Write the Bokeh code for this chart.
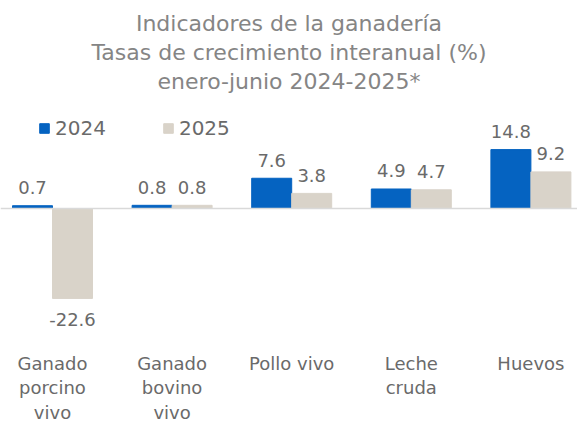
from bokeh.plotting import figure
from bokeh.models import ColumnDataSource, Range1d, Span, Label, Legend, LegendItem
from bokeh.core.properties import value
from bokeh.embed import file_html
from bokeh.resources import INLINE

# ---- data ----
categories = ["Ganado\nporcino\nvivo", "Ganado\nbovino\nvivo", "Pollo vivo", "Leche\ncruda", "Huevos"]
series_names = ["2024", "2025"]
values_2024 = [0.7, 0.8, 7.6, 4.9, 14.8]
values_2025 = [-22.6, 0.8, 3.8, 4.7, 9.2]
title_lines = ["Indicadores de la ganadería",
               "Tasas de crecimiento interanual (%)",
               "enero-junio 2024-2025*"]

BLUE = "#0563C1"
BEIGE = "#D9D3C9"
TXT = "#6A6A6A"
FONT = "DejaVu Sans"

W, H = 577, 424
px_per_cat = 119.6
px_per_unit = 3.98
x0 = -52 / px_per_cat
y_top = 208 / px_per_unit

p = figure(width=W, height=H, output_backend="svg", toolbar_location=None,
           x_range=Range1d(x0, x0 + W / px_per_cat),
           y_range=Range1d(y_top - H / px_per_unit, y_top),
           x_axis_type=None, y_axis_type=None, min_border=0)
p.outline_line_color = None
p.grid.visible = False
p.background_fill_color = "white"
p.border_fill_color = "white"

idx = list(range(len(categories)))
bw = 40 / px_per_cat

p.add_layout(Span(location=0, dimension="width", line_color="#D9D9D9", line_width=1.5))

renderers = []
for k, (vals, col) in enumerate([(values_2024, BLUE), (values_2025, BEIGE)]):
    xs = [i + (k - 0.5) * bw for i in idx]
    src = ColumnDataSource(dict(
        x=xs, top=vals,
        lab=[f"{v:.1f}" for v in vals],
        base=["alphabetic" if v >= 0 else "top" for v in vals],
        off=[-18 if v >= 0 else 15 for v in vals],
    ))
    r = p.vbar(x="x", top="top", bottom=0, width=bw, source=src,
               fill_color=col, line_color=col)
    renderers.append(r)
    p.text(x="x", y="top", text="lab", source=src, text_align="center",
           text_baseline="base", y_offset="off",
           text_font=value(FONT), text_font_size="18px", text_color=TXT)

# category labels
cat_src = ColumnDataSource(dict(x=idx, y=[(208 - 352) / px_per_unit] * len(idx), t=categories))
p.text(x="x", y="y", text="t", source=cat_src, text_align="center", text_baseline="top",
       text_font=value(FONT), text_font_size="18px", text_color=TXT, text_line_height=1.18)

# title
for j, line in enumerate(title_lines):
    p.add_layout(Label(x=288.5, y=H - 23 - 29 * j, x_units="screen", y_units="screen",
                       text=line, text_align="center", text_baseline="middle",
                       text_font="DejaVu Sans", text_font_size="22px", text_color="#858585"))

legend = Legend(items=[LegendItem(label=n, renderers=[r]) for n, r in zip(series_names, renderers)],
                orientation="horizontal", location=(38, 284),
                glyph_width=12, glyph_height=12, label_standoff=5, spacing=56,
                padding=0, margin=0, border_line_color=None, background_fill_alpha=0,
                label_text_font=FONT, label_text_font_size="20px", label_text_color=TXT)
p.add_layout(legend, "center")

open("out.html", "w").write(file_html(p, INLINE))
